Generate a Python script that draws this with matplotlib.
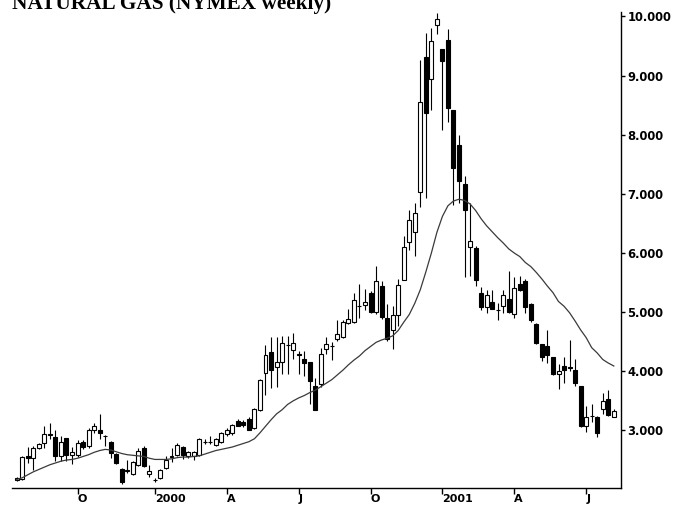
import numpy as np
import pandas as pd
import matplotlib
matplotlib.use("Agg")
import matplotlib.pyplot as plt

# weekly candles, first bar on Friday 1999-07-16
start = "1999-07-16"
opens = [2.17, 2.18, 2.56, 2.53, 2.70, 2.79, 2.94, 2.89, 2.56, 2.87,
         2.58, 2.58, 2.80, 2.73, 3.00, 3.00, 2.91, 2.81, 2.61, 2.35,
         2.32, 2.27, 2.42, 2.71, 2.26, 2.16, 2.20, 2.36, 2.55, 2.59,
         2.72, 2.57, 2.57, 2.58, 2.80, 2.81, 2.76, 2.81, 2.94, 2.96,
         3.16, 3.14, 3.19, 3.05, 3.35, 3.97, 4.32, 4.08, 4.16, 4.44,
         4.36, 4.29, 4.20, 4.15, 3.75, 3.79, 4.38, 4.42, 4.55, 4.58,
         4.82, 4.84, 5.10, 5.12, 5.33, 5.00, 5.44, 4.90, 4.70, 4.95,
         5.55, 6.19, 6.36, 7.04, 9.32, 8.95, 9.85, 9.45, 9.60, 8.42,
         7.82, 7.17, 6.11, 6.09, 5.33, 5.09, 5.18, 5.04, 5.10, 5.22,
         4.97, 5.48, 5.52, 5.14, 4.80, 4.46, 4.43, 4.24, 3.96, 4.09,
         4.07, 4.02, 3.76, 3.08, 3.24, 3.22, 3.36, 3.53, 3.23]
highs = [2.21, 2.57, 2.72, 2.73, 2.79, 3.07, 3.12, 3.00, 2.90, 2.87,
         2.72, 2.84, 2.84, 3.05, 3.12, 3.28, 2.93, 2.83, 2.62, 2.36,
         2.50, 2.48, 2.70, 2.74, 2.41, 2.19, 2.35, 2.57, 2.70, 2.78,
         2.74, 2.66, 2.66, 2.88, 2.86, 2.90, 2.87, 2.98, 3.04, 3.11,
         3.19, 3.18, 3.22, 3.38, 3.87, 4.45, 4.58, 4.58, 4.60, 4.59,
         4.65, 4.35, 4.35, 4.15, 3.89, 4.39, 4.58, 4.50, 4.86, 4.86,
         5.05, 5.33, 5.47, 5.39, 5.36, 5.78, 5.52, 5.13, 5.11, 5.56,
         6.28, 6.73, 6.84, 9.27, 9.72, 9.80, 10.06, 9.45, 9.79, 8.42,
         8.00, 7.30, 6.84, 6.12, 5.43, 5.38, 5.38, 5.16, 5.37, 5.69,
         5.60, 5.61, 5.56, 5.16, 4.82, 4.47, 4.70, 4.25, 4.13, 4.24,
         4.53, 4.20, 3.76, 3.42, 3.44, 3.24, 3.63, 3.68, 3.36]
lows = [2.14, 2.16, 2.45, 2.33, 2.68, 2.70, 2.85, 2.48, 2.48, 2.48,
        2.43, 2.55, 2.68, 2.70, 2.95, 2.85, 2.74, 2.53, 2.44, 2.10,
        2.28, 2.24, 2.40, 2.38, 2.22, 2.13, 2.18, 2.34, 2.47, 2.57,
        2.52, 2.54, 2.50, 2.56, 2.77, 2.77, 2.73, 2.79, 2.91, 2.93,
        3.07, 3.06, 3.00, 3.03, 3.33, 3.60, 3.72, 3.73, 3.96, 3.96,
        4.20, 3.96, 3.92, 3.45, 3.35, 3.74, 4.29, 4.19, 4.52, 4.56,
        4.80, 4.82, 4.90, 5.04, 4.98, 4.97, 4.88, 4.52, 4.38, 4.76,
        5.55, 6.05, 5.95, 6.78, 6.93, 8.42, 9.70, 8.08, 8.22, 6.81,
        6.84, 5.60, 5.62, 5.45, 5.03, 4.98, 5.05, 4.86, 4.99, 4.99,
        4.90, 5.35, 4.98, 4.84, 4.46, 4.18, 4.14, 3.94, 3.70, 3.81,
        4.00, 3.76, 3.06, 2.98, 3.15, 2.89, 3.28, 3.25, 3.22]
closes = [2.19, 2.55, 2.53, 2.70, 2.77, 2.94, 2.92, 2.56, 2.81, 2.58,
          2.64, 2.79, 2.72, 3.00, 3.08, 2.96, 2.90, 2.62, 2.45, 2.13,
          2.33, 2.46, 2.66, 2.40, 2.32, 2.17, 2.33, 2.50, 2.56, 2.76,
          2.58, 2.64, 2.64, 2.85, 2.81, 2.80, 2.85, 2.96, 3.00, 3.09,
          3.08, 3.09, 3.01, 3.36, 3.85, 4.28, 4.02, 4.16, 4.48, 4.45,
          4.48, 4.28, 4.14, 3.83, 3.35, 4.29, 4.46, 4.43, 4.63, 4.84,
          4.89, 5.20, 5.11, 5.18, 5.00, 5.53, 4.92, 4.54, 4.95, 5.46,
          6.11, 6.56, 6.68, 8.56, 8.37, 9.58, 9.95, 9.24, 8.45, 7.43,
          7.21, 6.73, 6.21, 5.55, 5.09, 5.29, 5.06, 5.03, 5.29, 5.00,
          5.41, 5.38, 5.09, 4.86, 4.48, 4.25, 4.28, 3.96, 4.01, 4.02,
          4.06, 3.80, 3.08, 3.23, 3.25, 2.96, 3.50, 3.26, 3.33]
moving_avg = [2.17, 2.20, 2.25, 2.30, 2.34, 2.38, 2.42, 2.45, 2.48, 2.50,
              2.51, 2.53, 2.56, 2.59, 2.63, 2.66, 2.68, 2.67, 2.64, 2.61,
              2.59, 2.58, 2.57, 2.56, 2.53, 2.51, 2.51, 2.51, 2.52, 2.54,
              2.55, 2.55, 2.56, 2.57, 2.60, 2.63, 2.66, 2.68, 2.70, 2.72,
              2.75, 2.78, 2.81, 2.86, 2.96, 3.07, 3.18, 3.28, 3.35, 3.44,
              3.50, 3.55, 3.59, 3.64, 3.68, 3.74, 3.80, 3.86, 3.94, 4.02,
              4.11, 4.19, 4.26, 4.35, 4.42, 4.49, 4.53, 4.56, 4.60, 4.69,
              4.83, 4.96, 5.15, 5.38, 5.68, 6.00, 6.35, 6.62, 6.80, 6.88,
              6.91, 6.89, 6.83, 6.72, 6.58, 6.46, 6.36, 6.26, 6.17, 6.07,
              6.00, 5.94, 5.84, 5.77, 5.67, 5.56, 5.44, 5.33, 5.18, 5.10,
              4.99, 4.85, 4.70, 4.57, 4.40, 4.31, 4.20, 4.14, 4.09]
price_ticks = [3, 4, 5, 6, 7, 8, 9, 10]
quarter_names = {1: None, 4: "A", 7: "J", 10: "O"}

dates = pd.date_range(start, periods=len(closes), freq="W-FRI")
idx = np.arange(len(closes))
o = np.array(opens)
c = np.array(closes)

fig = plt.figure(figsize=(6.79, 5.07), dpi=100)
W, H = 679, 507
ax = fig.add_axes([12 / W, (H - 488) / H, (621 - 12) / W, (488 - 12) / H])

# wicks
ax.vlines(idx, lows, highs, color="black", linewidth=0.8, zorder=1)
# bodies
up = c >= o
bottoms = np.minimum(o, c)
heights = np.abs(c - o)
ax.bar(idx[up], heights[up], bottom=bottoms[up], width=0.72,
       color="white", edgecolor="black", linewidth=0.8, zorder=2)
ax.bar(idx[~up], heights[~up], bottom=bottoms[~up], width=0.72,
       color="black", edgecolor="black", linewidth=0.8, zorder=2)

ax.plot(idx, moving_avg, color="#3a3a3a", linewidth=0.9, zorder=3)

ax.set_xlim(-0.85, 109.3)
ax.set_ylim(2.027, 10.076)

for s in ["left", "top"]:
    ax.spines[s].set_visible(False)
ax.spines["bottom"].set_linewidth(1.0)
ax.spines["right"].set_linewidth(1.0)

ax.yaxis.tick_right()
ax.set_yticks(price_ticks)
ax.set_yticklabels(["%.3f" % v for v in price_ticks])
ax.tick_params(axis="y", length=3, width=1, pad=1.5, labelsize=8.3)

# quarterly ticks at first weekly bar of Jan/Apr/Jul/Oct
tick_pos, tick_lab = [], []
for i in range(1, len(dates)):
    m = dates[i].month
    if m != dates[i - 1].month and m in quarter_names:
        tick_pos.append(i)
        tick_lab.append(str(dates[i].year) if m == 1 else quarter_names[m])
ax.set_xticks(tick_pos)
ax.set_xticklabels(tick_lab)
ax.tick_params(axis="x", length=4, width=1, pad=0.2, labelsize=8.0)
for t in ax.get_xticklabels():
    t.set_horizontalalignment("left")
for t in ax.get_xticklabels() + ax.get_yticklabels():
    t.set_fontweight("bold")
    t.set_family("DejaVu Sans")

fig.text(12 / W, 1 - 9 / H, "NATURAL GAS (NYMEX weekly)", ha="left",
         va="baseline", fontsize=15.3, fontweight="bold",
         family="Liberation Serif")

fig.savefig("out.png", dpi=100)
